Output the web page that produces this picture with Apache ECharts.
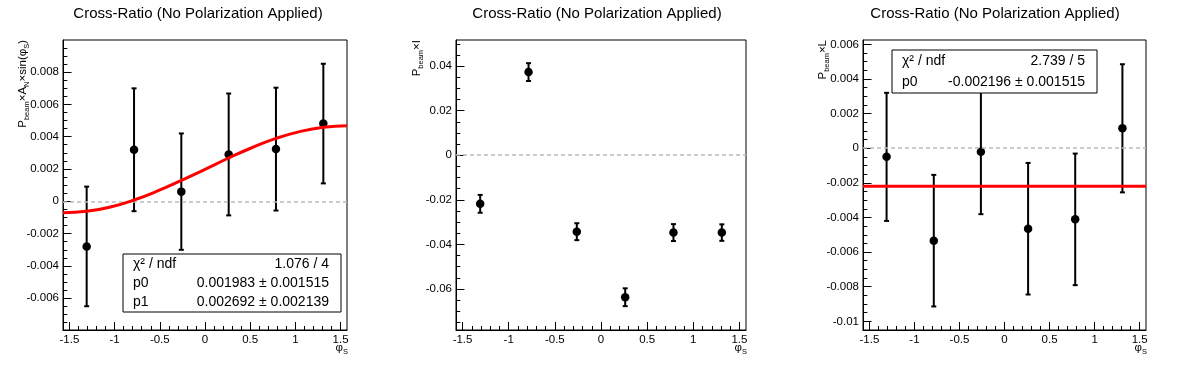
<!DOCTYPE html>
<html><head><meta charset="utf-8">
<script src="https://cdn.jsdelivr.net/npm/echarts@6/dist/echarts.min.js"></script>
<style>html,body{margin:0;padding:0;background:#fff}#c{width:1196px;height:372px}</style>
</head><body><div id="c"></div>
<script>
// ---------- data ----------
const titleText = 'Cross-Ratio (No Polarization Applied)';
const phiBins = [-1.309, -0.785, -0.262, 0.262, 0.785, 1.309];

// panel 1 : P_beam x A_N x sin(phi_S)
const valsAN = [-0.00279, 0.00319, 0.0006, 0.0029, 0.00323, 0.00481];
const errsAN = [0.0037, 0.0038, 0.0036, 0.00377, 0.0038, 0.0037];
// fitted curve
const fitANx = [-1.5708, -1.309, -1.047, -0.785, -0.524, -0.262, 0, 0.262, 0.524, 0.785, 1.047, 1.309, 1.5708];
const fitANy = [-0.00071, -0.00062, -0.00035, 0.00008, 0.00064, 0.00129, 0.00198, 0.00268, 0.00333, 0.00389, 0.00431, 0.00458, 0.00468];
const statsAN = [['χ² / ndf', '1.076 / 4'], ['p0', '0.001983 ± 0.001515'], ['p1', '0.002692 ± 0.002139']];

// panel 2 : P_beam x I
const valsI = [-0.0218, 0.0373, -0.0343, -0.0637, -0.0347, -0.0347];
const errsI = [0.0040, 0.0040, 0.0038, 0.0040, 0.0038, 0.0037];

// panel 3 : P_beam x L
const valsL = [-0.0005, -0.00534, -0.00021, -0.00465, -0.00411, 0.00115];
const errsL = [0.0037, 0.0038, 0.0036, 0.0038, 0.0038, 0.0037];
const fitLx = [-1.5708, 1.5708];
const fitLy = [-0.002196, -0.002196];
const statsL = [['χ² / ndf', '2.739 / 5'], ['p0', '-0.002196 ± 0.001515']];

// tick labels
const xTicks = [-1.5, -1, -0.5, 0, 0.5, 1, 1.5];
const yTicksAN = [-0.006, -0.004, -0.002, 0, 0.002, 0.004, 0.006, 0.008];
const yTicksI = [-0.06, -0.04, -0.02, 0, 0.02, 0.04];
const yTicksL = [-0.01, -0.008, -0.006, -0.004, -0.002, 0, 0.002, 0.004, 0.006];

// ---------- helpers ----------
const FONT = '"Liberation Sans", Arial, sans-serif';
function steps(a, b, d) {
  const out = []; const n = Math.round((b - a) / d);
  for (let i = 0; i <= n; i++) out.push(+(a + i * d).toFixed(7));
  return out;
}
const XMIN = -Math.PI / 2, XMAX = Math.PI / 2;

const panels = [
  { grid: { left: 63, top: 40, width: 284, height: 290 }, ymin: -0.00796, ymax: 0.00998,
    yTicks: yTicksAN, yMinor: steps(-0.0075, 0.0095, 0.0005), vals: valsAN, errs: errsAN,
    fitX: fitANx, fitY: fitANy, smooth: true },
  { grid: { left: 456, top: 40, width: 290, height: 290 }, ymin: -0.0784, ymax: 0.0517,
    yTicks: yTicksI, yMinor: steps(-0.075, 0.05, 0.005), vals: valsI, errs: errsI },
  { grid: { left: 863, top: 40, width: 283, height: 290 }, ymin: -0.0105, ymax: 0.00625,
    yTicks: yTicksL, yMinor: steps(-0.0105, 0.006, 0.0005), vals: valsL, errs: errsL,
    fitX: fitLx, fitY: fitLy, smooth: false }
];

const grids = [], xAxes = [], yAxes = [], series = [];
const xMinor = steps(-1.5, 1.5, 0.1);

function errRender(params, api) {
  const x = api.value(0), y = api.value(1), e = api.value(2);
  const t = api.coord([x, y + e]), b = api.coord([x, y - e]);
  const cw = 2.5, st = { stroke: '#000', lineWidth: 2 };
  return { type: 'group', children: [
    { type: 'line', shape: { x1: t[0], y1: t[1], x2: b[0], y2: b[1] }, style: st },
    { type: 'line', shape: { x1: t[0] - cw, y1: t[1], x2: t[0] + cw, y2: t[1] }, style: st },
    { type: 'line', shape: { x1: b[0] - cw, y1: b[1], x2: b[0] + cw, y2: b[1] }, style: st }
  ]};
}

panels.forEach((p, i) => {
  grids.push(Object.assign({ show: true, borderColor: '#000', borderWidth: 1, backgroundColor: 'transparent' }, p.grid));
  // major x
  xAxes.push({ type: 'value', gridIndex: i, min: XMIN, max: XMAX, position: 'bottom',
    axisLine: { show: true, onZero: false, lineStyle: { color: '#000', width: 1 } },
    axisTick: { show: true, inside: true, length: 8, customValues: xTicks, lineStyle: { color: '#000' } },
    axisLabel: { show: true, customValues: xTicks, color: '#000', fontSize: 11.5, fontFamily: FONT, margin: 4 },
    splitLine: { show: false } });
  // minor x
  xAxes.push({ type: 'value', gridIndex: i, min: XMIN, max: XMAX, position: 'bottom', offset: 0,
    axisLine: { show: false, onZero: false }, axisLabel: { show: false }, splitLine: { show: false },
    axisTick: { show: true, inside: true, length: 4, customValues: xMinor, lineStyle: { color: '#000' } } });
  // major y
  yAxes.push({ type: 'value', gridIndex: i, min: p.ymin, max: p.ymax, position: 'left',
    axisLine: { show: true, onZero: false, lineStyle: { color: '#000', width: 1 } },
    axisTick: { show: true, inside: true, length: 8.5, customValues: p.yTicks, lineStyle: { color: '#000' } },
    axisLabel: { show: true, customValues: p.yTicks, color: '#000', fontSize: 11.5, fontFamily: FONT, margin: 4 },
    splitLine: { show: false } });
  // minor y
  yAxes.push({ type: 'value', gridIndex: i, min: p.ymin, max: p.ymax, position: 'left', offset: 0,
    axisLine: { show: false, onZero: false }, axisLabel: { show: false }, splitLine: { show: false },
    axisTick: { show: true, inside: true, length: 4.3, customValues: p.yMinor, lineStyle: { color: '#000' } } });

  const xi = i * 2, yi = i * 2;
  // dashed zero line
  series.push({ type: 'line', xAxisIndex: xi, yAxisIndex: yi, data: [], z: 1, silent: true,
    markLine: { silent: true, symbol: 'none', label: { show: false }, animation: false,
      lineStyle: { color: '#bbbbbb', type: [4, 3], width: 1.5 }, data: [{ yAxis: 0 }] } });
  // error bars
  series.push({ type: 'custom', xAxisIndex: xi, yAxisIndex: yi, z: 3, silent: true,
    renderItem: errRender, data: phiBins.map((x, k) => [x, p.vals[k], p.errs[k]]) });
  // markers
  series.push({ type: 'scatter', xAxisIndex: xi, yAxisIndex: yi, z: 4, symbol: 'circle', symbolSize: 8.5,
    itemStyle: { color: '#000', opacity: 1 }, data: phiBins.map((x, k) => [x, p.vals[k]]) });
  // fit
  if (p.fitX) {
    series.push({ type: 'line', xAxisIndex: xi, yAxisIndex: yi, z: 5, showSymbol: false, smooth: p.smooth,
      lineStyle: { color: '#ff0000', width: 3 }, data: p.fitX.map((x, k) => [x, p.fitY[k]]) });
  }
});

// ---------- text graphics ----------
const richY = {
  m: { fontSize: 11.5, fontFamily: FONT, lineHeight: 14, verticalAlign: 'top', color: '#000' },
  s: { fontSize: 7.5, fontFamily: FONT, lineHeight: 8, padding: [9, 0, 0, 0], verticalAlign: 'bottom', color: '#000' }
};
function yTitle(x, text) {
  return { type: 'text', x: x, y: 40, rotation: Math.PI / 2, z: 100,
    style: { text: text, rich: richY, align: 'right', verticalAlign: 'middle', fill: '#000' } };
}
function xTitle(x) {
  return { type: 'text', x: x, y: 349, z: 100,
    style: { text: '{m|φ}{s|S}', rich: richY, align: 'right', verticalAlign: 'middle', fill: '#000' } };
}
function statBox(x, y, w, h, rows, tx, rx) {
  const ch = [{ type: 'rect', z: 100, shape: { x: x, y: y, width: w, height: h },
    style: { fill: '#fff', stroke: '#000', lineWidth: 1 } }];
  const rowH = h / rows.length;
  rows.forEach((r, k) => {
    const cy = y + rowH * (k + 0.5);
    ch.push({ type: 'text', z: 101, x: tx, y: cy, style: { text: r[0], fill: '#000', font: '14px ' + FONT, align: 'left', verticalAlign: 'middle' } });
    ch.push({ type: 'text', z: 101, x: rx, y: cy, style: { text: r[1], fill: '#000', font: '14px ' + FONT, align: 'right', verticalAlign: 'middle' } });
  });
  return { type: 'group', children: ch };
}
function titleG(cx) {
  return { type: 'text', x: cx, y: 14, z: 100,
    style: { text: titleText, fill: '#000', font: '15px ' + FONT, align: 'center', verticalAlign: 'middle' } };
}

const graphic = {
  z: 50, zlevel: 0,
  elements: [
    titleG(198), titleG(597), titleG(995),
    yTitle(23.5, '{m|P}{s|beam}{m|×A}{s|N}{m|×sin(φ}{s|S}{m|)}'),
    yTitle(418, '{m|P}{s|beam}{m|×I}'),
    yTitle(824, '{m|P}{s|beam}{m|×L}'),
    xTitle(348), xTitle(747), xTitle(1147),
    statBox(123, 254, 218, 58, statsAN, 133, 329),
    statBox(892, 50, 205, 43, statsL, 902, 1085)
  ]
};

const chart = echarts.init(document.getElementById('c'), null, { renderer: 'canvas' });
chart.setOption({
  animation: false,
  backgroundColor: '#fff',
  grid: grids, xAxis: xAxes, yAxis: yAxes, series: series, graphic: graphic
});
</script>
</body></html>
